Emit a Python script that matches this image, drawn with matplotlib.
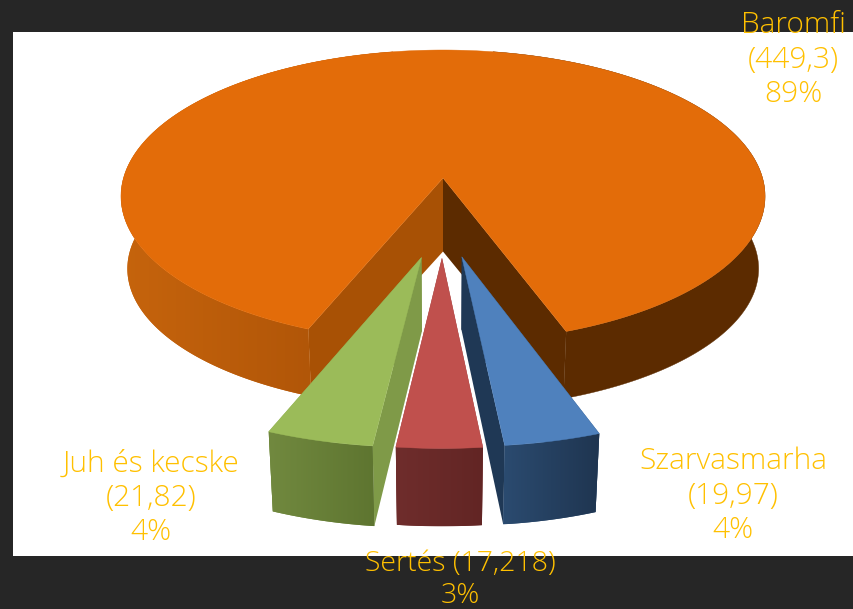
import numpy as np
import matplotlib
matplotlib.use("Agg")
import matplotlib.pyplot as plt
from matplotlib.patches import Polygon, Rectangle
from matplotlib.colors import LinearSegmentedColormap

categories = ["Baromfi", "Szarvasmarha", "Sertés", "Juh és kecske"]
values = [449.3, 19.97, 17.218, 21.82]
value_labels = ["449,3", "19,97", "17,218", "21,82"]
percent_labels = ["89%", "4%", "3%", "4%"]

START = 338.1  # degrees from the front of the pie, running clockwise seen from above
offset_x = [0.0, 0.055, -0.003, -0.063]
offset_y = [0.0, 0.512, 0.521, 0.516]
spread_x = [1.0, 1.015, 1.04, 1.03]
depth = [75, 71, 70, 72]
foreshorten = [0.16, 0.0, 0.0, 0.0]
top_col = ["#E36C09", "#4F81BD", "#C0504D", "#9BBB59"]
cut_col = ["#A85105", "#1F3855", "#6E2C2B", "#7F9A48"]
side_a = ["#C6640D", "#2B4B70", "#6F2D2C", "#71893F"]
side_b = ["#A85006", "#1F3550", "#622524", "#5E7530"]
dark_orange = "#5C2B00"

CX, CY, A, B, K, M = 443, 178, 319.5, 144, 0.125, 0.02


def project(x, y, z, h, c):
    x, y = np.atleast_1d(x), np.atleast_1d(y)
    w = 1 - K * y + M * z
    return np.column_stack([CX + A * x / w, CY + (B * y + h * z * (1 - c * y)) / w])


fig = plt.figure(figsize=(8.54, 6.09), dpi=100, facecolor="#262626")
ax = fig.add_axes([0, 0, 1, 1])
ax.add_patch(Rectangle((13, 32), 841, 524, fc="white", ec="none", zorder=0))


def wall(points, c1, c2, z):
    """Wall face with a left-to-right shade clipped to its outline."""
    patch = Polygon(points, fc=c1, ec="none", zorder=z)
    ax.add_patch(patch)
    x0, x1 = points[:, 0].min(), points[:, 0].max()
    y0, y1 = points[:, 1].min(), points[:, 1].max()
    cmap = LinearSegmentedColormap.from_list("w", [c1, c2])
    im = ax.imshow(np.linspace(0, 1, 256)[None, :], extent=(x0, x1, y1, y0),
                   cmap=cmap, aspect="auto", zorder=z, interpolation="bilinear")
    im.set_clip_path(patch)


total = sum(values)
theta = START
z = 1
for i, v in enumerate(values):
    sweep = v / total * 360
    t0, t1 = np.radians(theta), np.radians(theta - sweep)
    theta -= sweep
    ox, oy, h, c = offset_x[i], offset_y[i], depth[i], foreshorten[i]
    ts = np.linspace(t0, t1, max(int(sweep * 4), 30))
    rx, ry = np.sin(ts) * spread_x[i] + ox, np.cos(ts) + oy
    top = project(rx, ry, 0, h, c)
    bot = project(rx, ry, 1, h, c)
    tip_t = project(ox, oy, 0, h, c)[0]
    tip_b = project(ox, oy, 1, h, c)[0]

    if i == 0:
        ax.add_patch(Polygon([tip_t, top[0], bot[0], tip_b], fc=cut_col[0], ec="none", zorder=z))
        ax.add_patch(Polygon([tip_t, top[-1], bot[-1], tip_b], fc=dark_orange, ec="none", zorder=z))
        z += 1
        # left wall: from the cut out to the side of the pie; right wall: plain
        deg = np.degrees(ts)
        left = deg >= 190
        right = deg <= 170
        wall(np.vstack([top[left], bot[left][::-1]]), side_a[0], side_b[0], z)
        ax.add_patch(Polygon(np.vstack([top[right], bot[right][::-1]]), fc=dark_orange, ec=dark_orange, lw=0.3, zorder=z))
    else:
        ax.add_patch(Polygon([tip_t, top[-1], bot[-1], tip_b], fc=cut_col[i], ec="none", zorder=z))
        ax.add_patch(Polygon([tip_t, top[0], bot[0], tip_b], fc=cut_col[i], ec="none", zorder=z))
        z += 1
        wall(np.vstack([top, bot[::-1]]), side_a[i], side_b[i], z)
    z += 1
    ax.add_patch(Polygon(np.vstack([tip_t, top]), fc=top_col[i], ec=top_col[i], lw=0.3, zorder=z))
    z += 1

ax.set_xlim(0, 854)
ax.set_ylim(609, 0)
ax.axis("off")

font = dict(color="#FFC000", family="Open Sans", fontweight="light",
            ha="center", va="center", zorder=z, linespacing=1.22)
ax.text(793, 60, f"{categories[0]}\n({value_labels[0]})\n{percent_labels[0]}", fontsize=21.5, **font)
ax.text(733, 496, f"{categories[1]}\n({value_labels[1]})\n{percent_labels[1]}", fontsize=21.5, **font)
ax.text(460, 580, f"{categories[2]} ({value_labels[2]})\n{percent_labels[2]}", fontsize=20.5, **font)
ax.text(151, 498, f"{categories[3]}\n({value_labels[3]})\n{percent_labels[3]}", fontsize=21.5, **font)

fig.savefig("out.png", dpi=100, facecolor=fig.get_facecolor())
